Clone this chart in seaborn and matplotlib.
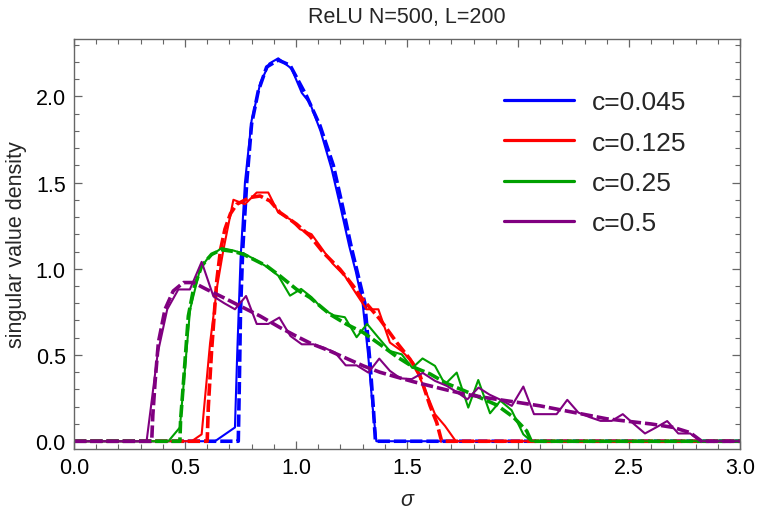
import numpy as np
import pandas as pd
import matplotlib
matplotlib.use("Agg")
import matplotlib.pyplot as plt
from matplotlib.lines import Line2D
from matplotlib.ticker import MultipleLocator
import seaborn as sns

# ---------------- data ----------------
labels = ["c=0.045", "c=0.125", "c=0.25", "c=0.5"]
colors = ["#0000FF", "#FF0000", "#00A000", "#800080"]

# c = 0.045
blue_emp_x = [0.0, 0.635, 0.725, 0.735, 0.75, 0.77, 0.80, 0.84, 0.88, 0.92, 0.98, 1.026, 1.063,
              1.11, 1.16, 1.20, 1.24, 1.27, 1.30, 1.325, 1.345, 1.362, 3.0]
blue_emp_y = [0, 0, 0.08, 0.5, 1.05, 1.5, 1.86, 2.08, 2.19, 2.22, 2.16, 2.02, 1.96,
              1.80, 1.58, 1.36, 1.13, 0.98, 0.80, 0.5, 0.2, 0, 0]
blue_th_x = [0.0, 0.74, 0.745, 0.75, 0.76, 0.778, 0.80, 0.83, 0.868, 0.92, 0.973, 1.048, 1.108,
             1.168, 1.21, 1.25, 1.28, 1.31, 1.333, 1.348, 1.358, 3.0]
blue_th_y = [0, 0, 0.35, 0.75, 1.11, 1.5, 1.84, 2.03, 2.17, 2.21, 2.18, 2.0, 1.83,
             1.6, 1.36, 1.12, 0.96, 0.80, 0.46, 0.2, 0, 0]

# c = 0.125
red_emp_x = [0.0, 0.53, 0.575, 0.613, 0.645, 0.673, 0.718, 0.77, 0.823, 0.875, 0.92, 0.973, 1.018,
             1.07, 1.115, 1.165, 1.22, 1.273, 1.318, 1.371, 1.423, 1.476, 1.528, 1.581, 1.626,
             1.671, 1.72, 3.0]
red_emp_y = [0, 0, 0.04, 0.57, 0.9, 1.11, 1.40, 1.374, 1.442, 1.442, 1.326, 1.287, 1.229,
             1.20, 1.12, 1.03, 0.958, 0.852, 0.765, 0.765, 0.572, 0.523, 0.456, 0.30, 0.157,
             0.089, 0, 0]
red_th_x = [0.0, 0.60, 0.605, 0.62, 0.643, 0.66, 0.68, 0.705, 0.733, 0.793, 0.838, 0.883, 0.928,
            1.003, 1.063, 1.123, 1.198, 1.258, 1.288, 1.378, 1.454, 1.514, 1.559, 1.604, 1.634,
            1.656, 3.0]
red_th_y = [0, 0, 0.2, 0.53, 0.93, 1.11, 1.23, 1.32, 1.374, 1.413, 1.422, 1.393, 1.326,
            1.258, 1.19, 1.094, 0.997, 0.90, 0.842, 0.707, 0.572, 0.475, 0.379, 0.205, 0.108,
            0, 0]

# c = 0.25
green_emp_x = [0.0, 0.425, 0.477, 0.523, 0.568, 0.605, 0.665, 0.72, 0.77, 0.82, 0.87, 0.92, 0.973,
               1.023, 1.07, 1.12, 1.17, 1.22, 1.273, 1.32, 1.371, 1.423, 1.476, 1.524, 1.57,
               1.626, 1.671, 1.724, 1.776, 1.821, 1.874, 1.921, 1.971, 2.024, 2.06, 3.0]
green_emp_y = [0, 0, 0.08, 0.765, 1.0, 1.065, 1.12, 1.105, 1.085, 1.05, 1.01, 0.96, 0.844,
               0.883, 0.835, 0.767, 0.73, 0.719, 0.603, 0.68, 0.601, 0.523, 0.504, 0.425, 0.48,
               0.437, 0.33, 0.398, 0.195, 0.355, 0.162, 0.235, 0.18, 0.04, 0, 0]
green_th_x = [0.0, 0.477, 0.48, 0.493, 0.515, 0.538, 0.575, 0.62, 0.665, 0.72, 0.763, 0.868, 0.928,
              1.003, 1.063, 1.153, 1.228, 1.303, 1.378, 1.454, 1.528, 1.604, 1.679, 1.754, 1.829,
              1.904, 1.979, 2.039, 2.06, 3.0]
green_th_y = [0, 0, 0.12, 0.34, 0.726, 0.88, 1.016, 1.084, 1.11, 1.10, 1.084, 1.016, 0.958,
              0.88, 0.833, 0.736, 0.678, 0.63, 0.562, 0.49, 0.43, 0.39, 0.335, 0.295, 0.253,
              0.21, 0.14, 0.06, 0, 0]

# c = 0.5
purple_emp_x = [0.0, 0.327, 0.377, 0.42, 0.47, 0.522, 0.575, 0.628, 0.677, 0.725, 0.775, 0.823,
                0.875, 0.925, 0.975, 1.026, 1.078, 1.125, 1.176, 1.224, 1.273, 1.326, 1.375,
                1.423, 1.47, 1.521, 1.571, 1.626, 1.679, 1.724, 1.772, 1.822, 1.872, 1.922,
                1.972, 2.024, 2.072, 2.122, 2.174, 2.222, 2.272, 2.322, 2.372, 2.422, 2.472,
                2.522, 2.572, 2.622, 2.672, 2.722, 2.775, 2.827, 3.0]
purple_emp_y = [0, 0, 0.51, 0.765, 0.88, 0.88, 1.04, 0.84, 0.80, 0.765, 0.842, 0.68,
                0.68, 0.717, 0.61, 0.562, 0.562, 0.543, 0.514, 0.44, 0.44, 0.398, 0.479,
                0.408, 0.365, 0.36, 0.396, 0.35, 0.321, 0.285, 0.243, 0.311, 0.27, 0.24,
                0.205, 0.317, 0.157, 0.157, 0.157, 0.24, 0.166, 0.14, 0.118, 0.118, 0.157,
                0.10, 0.045, 0.08, 0.117, 0.045, 0.045, 0, 0]
purple_th_x = [0.0, 0.35, 0.355, 0.365, 0.38, 0.41, 0.447, 0.493, 0.538, 0.598, 0.673, 0.748,
               0.838, 0.928, 1.0, 1.07, 1.153, 1.228, 1.303, 1.378, 1.454, 1.529, 1.604, 1.68,
               1.754, 1.83, 1.904, 2.0, 2.1, 2.2, 2.3, 2.4, 2.5, 2.6, 2.7, 2.775, 2.827, 3.0]
purple_th_y = [0, 0, 0.15, 0.34, 0.572, 0.765, 0.871, 0.92, 0.92, 0.88, 0.833, 0.784,
               0.726, 0.659, 0.61, 0.565, 0.523, 0.48, 0.437, 0.40, 0.372, 0.345, 0.321, 0.297,
               0.275, 0.258, 0.243, 0.225, 0.205, 0.18, 0.155, 0.13, 0.115, 0.10, 0.08, 0.05,
               0, 0]

x_ticks = [0.0, 0.5, 1.0, 1.5, 2.0, 2.5, 3.0]
y_ticks = [0.0, 0.5, 1.0, 1.5, 2.0]

series = [
    (blue_emp_x, blue_emp_y, blue_th_x, blue_th_y),
    (red_emp_x, red_emp_y, red_th_x, red_th_y),
    (green_emp_x, green_emp_y, green_th_x, green_th_y),
    (purple_emp_x, purple_emp_y, purple_th_x, purple_th_y),
]

# ---------------- style ----------------
sns.set_style("ticks")
plt.rcParams["font.family"] = ["Liberation Sans", "DejaVu Sans"]
plt.rcParams["axes.unicode_minus"] = False

fig = plt.figure(figsize=(7.57, 5.10), dpi=100)
ax = fig.add_axes([74 / 757, 1 - 450 / 510, (740 - 74) / 757, (450 - 40) / 510])

for (ex, ey, tx, ty), col in zip(series, colors):
    emp = pd.DataFrame({"sigma": ex, "density": ey})
    th = pd.DataFrame({"sigma": tx, "density": ty})
    sns.lineplot(data=emp, x="sigma", y="density", ax=ax, color=col, linewidth=1.5,
                 estimator=None, sort=False)
    sns.lineplot(data=th, x="sigma", y="density", ax=ax, color=col, linewidth=2.6,
                 linestyle=(0, (3.4, 1.1)), estimator=None, sort=False)

ax.set_xlim(0, 3.0)
ax.set_ylim(-0.045, 2.332)
ax.set_xticks(x_ticks)
ax.set_xticklabels([f"{v:.1f}" for v in x_ticks])
ax.set_yticks(y_ticks)
ax.set_yticklabels([f"{v:.1f}" for v in y_ticks])
ax.xaxis.set_minor_locator(MultipleLocator(0.1))
ax.yaxis.set_minor_locator(MultipleLocator(0.1))

frame_col = "#666666"
for sp in ax.spines.values():
    sp.set_visible(True)
    sp.set_color(frame_col)
    sp.set_linewidth(1.0)
ax.tick_params(which="both", direction="in", top=True, right=True, color=frame_col,
               labelsize=15.5, labelcolor="black")
ax.tick_params(which="major", length=6, width=0.9, pad=6)
ax.tick_params(which="minor", length=3.5, width=0.8)

ax.set_xlabel("σ", fontsize=15.5, fontstyle="italic", labelpad=8)
ax.set_ylabel("singular value density", fontsize=15.5, labelpad=6)
ax.set_title("ReLU N=500, L=200", fontsize=15.5, pad=12)

handles = [Line2D([0], [0], color=c, linewidth=2.3) for c in colors]
ax.legend(handles, labels, loc="upper left", bbox_to_anchor=(0.645, 0.875), frameon=False,
          fontsize=19, handlelength=2.65, handletextpad=0.7, labelspacing=0.62,
          borderpad=0, borderaxespad=0)

fig.savefig("out.png", dpi=100)
